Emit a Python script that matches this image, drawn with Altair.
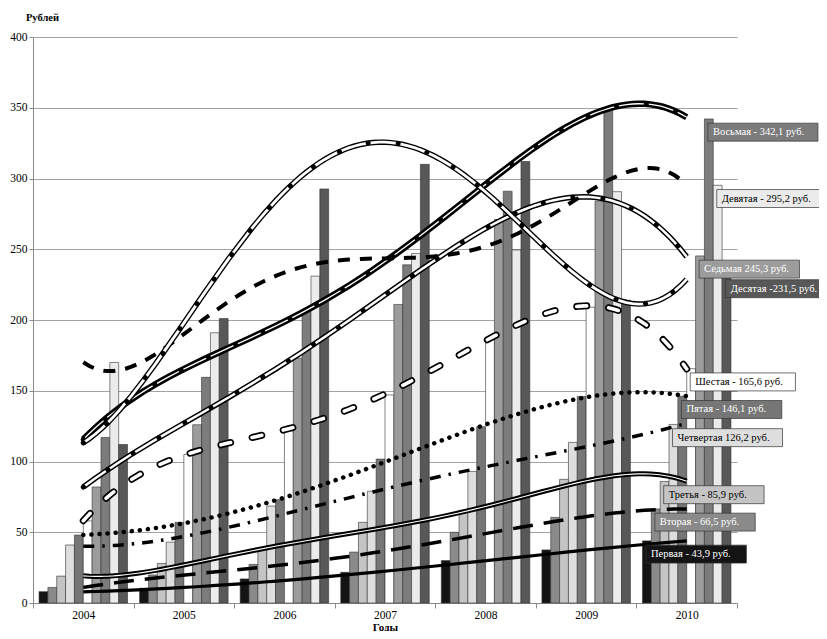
import altair as alt
import pandas as pd

# ---------------- data ----------------
years = [2004, 2005, 2006, 2007, 2008, 2009, 2010]
deciles = ["Первая", "Вторая", "Третья", "Четвертая", "Пятая",
           "Шестая", "Седьмая", "Восьмая", "Девятая", "Десятая"]

first   = [8.0, 10.4, 17.0, 21.7, 30.0, 37.5, 43.9]
second  = [11.0, 19.8, 27.3, 36.0, 50.0, 60.5, 66.5]
third   = [19.0, 28.0, 38.6, 57.0, 65.5, 87.4, 85.9]
fourth  = [41.0, 43.0, 68.5, 79.0, 93.0, 113.5, 126.2]
fifth   = [48.0, 57.0, 73.0, 101.7, 124.6, 146.0, 146.1]
sixth   = [58.0, 105.0, 122.0, 147.0, 187.0, 209.0, 165.6]
seventh = [82.0, 126.0, 173.0, 211.0, 271.0, 284.0, 245.3]
eighth  = [117.0, 159.5, 207.0, 239.0, 291.0, 348.0, 342.1]
ninth   = [170.0, 191.0, 231.0, 247.0, 249.5, 290.7, 295.2]
tenth   = [112.0, 201.0, 292.6, 310.0, 312.0, 214.0, 231.5]

end_labels = ["Первая - 43,9 руб.", "Вторая - 66,5 руб.", "Третья - 85,9 руб.",
              "Четвертая 126,2 руб.", "Пятая - 146,1 руб.", "Шестая - 165,6 руб.",
              "Седьмая 245,3 руб.", "Восьмая - 342,1 руб.", "Девятая - 295,2 руб.",
              "Десятая -231,5 руб."]

y_ticks = [0, 50, 100, 150, 200, 250, 300, 350, 400]

series = [first, second, third, fourth, fifth, sixth, seventh, eighth, ninth, tenth]
rows = []
for k, (name, vals) in enumerate(zip(deciles, series)):
    for yr, v in zip(years, vals):
        rows.append({"decile": name, "k": k, "year": yr, "value": v, "label": end_labels[k]})
df = pd.DataFrame(rows)

# ---------------- styles ----------------
fills = ["#141414", "#8a8a8a", "#c4c4c4", "#dedede", "#767676",
         "#ffffff", "#9c9c9c", "#7c7c7c", "#ebebeb", "#585858"]
dark_text = ["Первая", "Вторая", "Пятая", "Седьмая", "Восьмая", "Десятая"]
trend_order = [4, 4, 5, 4, 4, 4, 4, 4, 5, 4]

W, H = 704, 566
px_per_unit = W / 7.0
bw = 0.088            # bar width (x units)
half = 0.44           # half group width
lab_dx = 0.035        # label box shift from its bar
FONT = "Liberation Serif, Times New Roman, serif"

dots = dict(color="black", strokeWidth=5, strokeDash=[0.1, 30], strokeCap="round")
line_styles = [
    [dict(color="black", strokeWidth=3.2)],
    [dict(color="black", strokeWidth=3.5, strokeDash=[20, 11])],
    [dict(color="black", strokeWidth=5), dict(color="white", strokeWidth=1.1)],
    [dict(color="black", strokeWidth=3.5, strokeDash=[11, 8, 2.5, 8])],
    [dict(color="black", strokeWidth=4.5, strokeDash=[0.1, 8], strokeCap="round")],
    [dict(color="black", strokeWidth=7, strokeDash=[10, 22], strokeCap="round"),
     dict(color="white", strokeWidth=3.6, strokeDash=[10, 22], strokeCap="round")],
    [dict(color="black", strokeWidth=5.5), dict(color="white", strokeWidth=2.5), dots],
    [dict(color="black", strokeWidth=6.5), dict(color="white", strokeWidth=1.3), dots],
    [dict(color="black", strokeWidth=4, strokeDash=[12, 10])],
    [dict(color="black", strokeWidth=5.5), dict(color="white", strokeWidth=2.8), dots],
]

xscale = alt.Scale(domain=[years[0] - 0.5, years[-1] + 0.5], nice=False, zero=False)
yscale = alt.Scale(domain=[y_ticks[0], y_ticks[-1]], nice=False)

tick_vals = [y - 0.5 for y in years] + [years[-1] + 0.5]
xaxis = alt.Axis(values=tick_vals,
                 labelExpr=f"datum.value < {years[-1]} ? toString(datum.value + 0.5) : ''",
                 labelOffset=px_per_unit / 2, tickSize=5, tickColor="#8a8a8a",
                 domainColor="#8a8a8a", grid=False, labelFont=FONT, labelFontSize=11.5,
                 labelColor="#000000", labelPadding=1, labelOverlap=False, labelFlush=False,
                 title="Годы", titleFont=FONT, titleFontSize=11, titleFontWeight="bold",
                 titleColor="#000000", titleY=27, titleBaseline="alphabetic")
yaxis = alt.Axis(values=y_ticks, grid=True, gridColor="#a3a3a3", gridWidth=1,
                 domainColor="#8a8a8a", tickColor="#8a8a8a", tickSize=4,
                 labelFont=FONT, labelFontSize=11.5, labelColor="#000000", labelPadding=2,
                 title="Рублей", titleAngle=0, titleX=9, titleY=-20, titleAlign="center",
                 titleBaseline="middle", titleFont=FONT, titleFontSize=10.5,
                 titleFontWeight="bold", titleColor="#000000")

color_enc = alt.Color("decile:N", scale=alt.Scale(domain=deciles, range=fills), legend=None)

# ---------------- bars ----------------
bars = alt.Chart(df).transform_calculate(
    x0=f"datum.year - {half} + datum.k * {bw}",
    x1=f"datum.year - {half} + (datum.k + 1) * {bw}",
).mark_rect(stroke="#333333", strokeWidth=0.6).encode(
    x=alt.X("x0:Q", scale=xscale, axis=xaxis),
    x2="x1:Q",
    y=alt.Y("value:Q", scale=yscale, axis=yaxis),
    y2=alt.datum(0),
    color=color_enc,
)

# ---------------- trend lines (polynomial regression) ----------------
trend_layers = []
for k, name in enumerate(deciles):
    base = alt.Chart(df).transform_filter(alt.datum.decile == name).transform_regression(
        "year", "value", method="poly", order=trend_order[k])
    for st in line_styles[k]:
        trend_layers.append(base.mark_line(**st).encode(
            x=alt.X("year:Q", scale=xscale, axis=xaxis),
            y=alt.Y("value:Q", scale=yscale, axis=yaxis),
        ))

# ---------------- end labels ----------------
lab_base = alt.Chart(df).transform_filter(alt.datum.year == years[-1]).transform_calculate(
    lx0=f"datum.year - {half} + datum.k * {bw} + {lab_dx}",
    lx1=f"datum.year - {half} + datum.k * {bw} + {lab_dx} + (length(datum.label) * 4.8 + 14) / {px_per_unit}",
    ly0="datum.value - 3",
    ly1="datum.value - 15.7",
    lym="datum.value - 9.35",
)
lab_rect = lab_base.mark_rect(stroke="#333333", strokeWidth=0.7).encode(
    x=alt.X("lx0:Q", scale=xscale, axis=xaxis),
    x2="lx1:Q",
    y=alt.Y("ly0:Q", scale=yscale, axis=yaxis),
    y2="ly1:Q",
    color=color_enc,
)
lab_text = lab_base.mark_text(align="left", baseline="middle", dx=5, font=FONT,
                              fontSize=10.5).encode(
    x=alt.X("lx0:Q", scale=xscale, axis=xaxis),
    y=alt.Y("lym:Q", scale=yscale, axis=yaxis),
    text="label:N",
    color=alt.condition(alt.FieldOneOfPredicate(field="decile", oneOf=dark_text),
                        alt.value("#ffffff"), alt.value("#000000")),
)

chart = alt.layer(bars, *trend_layers, lab_rect, lab_text).properties(
    width=W, height=H,
    autosize=alt.AutoSizeParams(type="none"),
    padding={"left": 25, "top": 29, "right": 82, "bottom": 28},
    background="white",
).configure_view(stroke=None)

chart.save("out.html", embed_options={"renderer": "svg", "actions": False})
